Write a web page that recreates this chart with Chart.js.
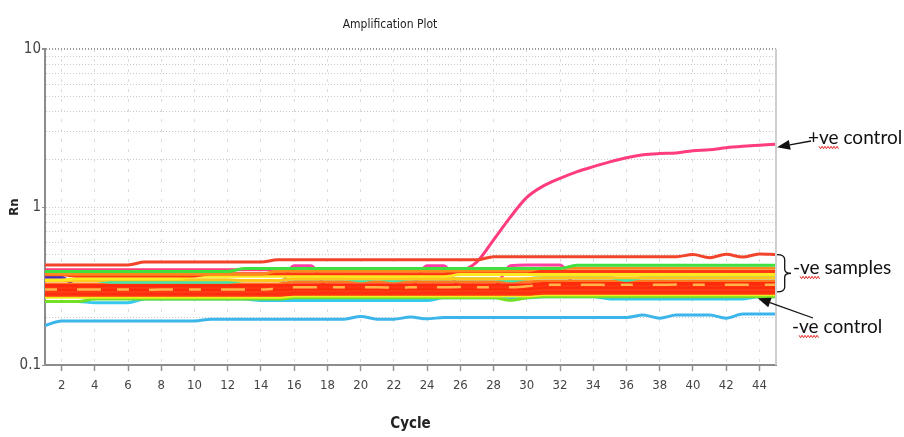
<!DOCTYPE html>
<html>
<head>
<meta charset="utf-8">
<title>Amplification Plot</title>
<script src="https://cdn.jsdelivr.net/npm/chart.js@4.4.1/dist/chart.umd.min.js"></script>
<style>
  body { margin: 0; background: #ffffff; }
  #wrap { position: relative; width: 904px; height: 437px; }
</style>
</head>
<body>
<div id="wrap"><canvas id="ampChart"></canvas></div>
<script>
// Cycles on the x axis and the tick labels used on both axes
const cycles = [1, 2, 3, 4, 5, 6, 7, 8, 9, 10, 11, 12, 13, 14, 15,
  16, 17, 18, 19, 20, 21, 22, 23, 24, 25, 26, 27, 28, 29, 30,
  31, 32, 33, 34, 35, 36, 37, 38, 39, 40, 41, 42, 43, 44, 45];
const xTickLabels = [2, 4, 6, 8, 10, 12, 14, 16, 18, 20, 22, 24, 26, 28, 30, 32, 34, 36, 38, 40, 42, 44];
const yTickLabels = [0.1, 1, 10];
const yMinorTicks = [0.2, 0.3, 0.4, 0.5, 0.6, 0.7, 0.8, 0.9, 2, 3, 4, 5, 6, 7, 8, 9];

// Rn per cycle, one row per 15 cycles
const posControl = [
  0.4, 0.4, 0.4, 0.4, 0.4, 0.4, 0.4, 0.4, 0.4, 0.4, 0.4, 0.4, 0.4, 0.4, 0.4,
  0.4, 0.4, 0.4, 0.4, 0.4, 0.4, 0.4, 0.4, 0.4, 0.4, 0.4, 0.45, 0.62, 0.86, 1.15,
  1.36, 1.52, 1.67, 1.8, 1.93, 2.05, 2.14, 2.18, 2.2, 2.27, 2.3, 2.37, 2.42, 2.46, 2.5];
const negControl = [
  0.178, 0.19, 0.19, 0.19, 0.19, 0.19, 0.19, 0.19, 0.19, 0.19, 0.195, 0.195, 0.195, 0.195, 0.195,
  0.195, 0.195, 0.195, 0.195, 0.203, 0.195, 0.195, 0.201, 0.196, 0.2, 0.2, 0.2, 0.2, 0.2, 0.2,
  0.2, 0.2, 0.2, 0.2, 0.2, 0.2, 0.207, 0.198, 0.207, 0.207, 0.207, 0.198, 0.21, 0.21, 0.21];

// -ve samples, top of the band to the bottom
const topRed = [
  0.43, 0.43, 0.43, 0.43, 0.43, 0.43, 0.448, 0.448, 0.448, 0.448, 0.448, 0.448, 0.448, 0.448, 0.463,
  0.463, 0.463, 0.463, 0.463, 0.463, 0.463, 0.463, 0.463, 0.463, 0.463, 0.463, 0.463, 0.485, 0.485, 0.485,
  0.485, 0.485, 0.485, 0.485, 0.485, 0.485, 0.485, 0.485, 0.485, 0.5, 0.478, 0.502, 0.482, 0.505, 0.5];
const green1 = [
  0.39, 0.39, 0.39, 0.39, 0.39, 0.39, 0.39, 0.39, 0.39, 0.39, 0.39, 0.39, 0.408, 0.408, 0.408,
  0.408, 0.408, 0.408, 0.408, 0.408, 0.408, 0.408, 0.408, 0.408, 0.408, 0.408, 0.408, 0.408, 0.408, 0.408,
  0.408, 0.408, 0.428, 0.428, 0.428, 0.428, 0.428, 0.428, 0.428, 0.428, 0.428, 0.428, 0.428, 0.428, 0.428];
const magenta = [
  0.31, 0.31, 0.31, 0.31, 0.31, 0.31, 0.31, 0.31, 0.31, 0.31, 0.31, 0.31, 0.31, 0.31, 0.31,
  0.425, 0.425, 0.31, 0.31, 0.31, 0.31, 0.31, 0.31, 0.425, 0.425, 0.31, 0.31, 0.31, 0.425, 0.43,
  0.43, 0.43, 0.31, 0.31, 0.31, 0.31, 0.31, 0.31, 0.31, 0.31, 0.31, 0.31, 0.31, 0.31, 0.31];
const orange1 = [
  0.375, 0.375, 0.375, 0.375, 0.375, 0.375, 0.375, 0.375, 0.375, 0.375, 0.375, 0.375, 0.375, 0.375, 0.394,
  0.394, 0.394, 0.394, 0.394, 0.394, 0.394, 0.394, 0.394, 0.394, 0.394, 0.394, 0.394, 0.394, 0.394, 0.394,
  0.41, 0.41, 0.41, 0.41, 0.41, 0.41, 0.41, 0.41, 0.41, 0.41, 0.41, 0.41, 0.41, 0.41, 0.41];
const red2 = [
  0.372, 0.372, 0.366, 0.366, 0.366, 0.366, 0.366, 0.366, 0.366, 0.366, 0.378, 0.378, 0.378, 0.378, 0.378,
  0.378, 0.378, 0.378, 0.378, 0.378, 0.378, 0.378, 0.378, 0.378, 0.378, 0.39, 0.39, 0.39, 0.39, 0.39,
  0.39, 0.39, 0.39, 0.39, 0.39, 0.39, 0.39, 0.39, 0.39, 0.39, 0.39, 0.39, 0.39, 0.39, 0.39];
const purple = [
  0.358, 0.358, 0.31, 0.31, 0.31, 0.31, 0.31, 0.31, 0.31, 0.31, 0.31, 0.31, 0.31, 0.31, 0.31,
  0.31, 0.31, 0.31, 0.31, 0.31, 0.31, 0.31, 0.31, 0.31, 0.31, 0.31, 0.31, 0.31, 0.31, 0.31,
  0.31, 0.31, 0.31, 0.31, 0.31, 0.31, 0.31, 0.31, 0.31, 0.31, 0.31, 0.31, 0.31, 0.31, 0.31];
const yellow1 = [
  0.345, 0.345, 0.352, 0.352, 0.352, 0.352, 0.352, 0.352, 0.352, 0.364, 0.364, 0.364, 0.364, 0.364, 0.364,
  0.364, 0.364, 0.364, 0.364, 0.364, 0.364, 0.364, 0.364, 0.364, 0.364, 0.374, 0.374, 0.374, 0.374, 0.374,
  0.374, 0.374, 0.374, 0.374, 0.374, 0.374, 0.374, 0.374, 0.374, 0.374, 0.374, 0.374, 0.374, 0.374, 0.374];
const yellow1b = [
  0.342, 0.342, 0.342, 0.342, 0.346, 0.346, 0.346, 0.346, 0.346, 0.346, 0.346, 0.346, 0.342, 0.342, 0.342,
  0.352, 0.352, 0.352, 0.352, 0.352, 0.352, 0.352, 0.352, 0.352, 0.352, 0.352, 0.352, 0.352, 0.352, 0.352,
  0.356, 0.356, 0.356, 0.356, 0.356, 0.356, 0.356, 0.356, 0.356, 0.356, 0.356, 0.356, 0.356, 0.356, 0.356];
const cyan1 = [
  0.342, 0.342, 0.342, 0.342, 0.334, 0.334, 0.334, 0.334, 0.334, 0.334, 0.334, 0.334, 0.342, 0.342, 0.342,
  0.352, 0.352, 0.352, 0.352, 0.341, 0.352, 0.341, 0.352, 0.352, 0.352, 0.352, 0.352, 0.352, 0.341, 0.352,
  0.356, 0.356, 0.356, 0.356, 0.356, 0.343, 0.356, 0.356, 0.356, 0.356, 0.356, 0.356, 0.356, 0.356, 0.356];
const orange3 = [
  0.326, 0.326, 0.326, 0.326, 0.326, 0.326, 0.326, 0.326, 0.326, 0.326, 0.326, 0.326, 0.326, 0.326, 0.326,
  0.336, 0.336, 0.336, 0.336, 0.336, 0.336, 0.336, 0.336, 0.336, 0.336, 0.336, 0.336, 0.336, 0.336, 0.336,
  0.34, 0.34, 0.34, 0.34, 0.34, 0.34, 0.34, 0.34, 0.34, 0.34, 0.34, 0.34, 0.34, 0.34, 0.34];
const orange2 = [
  0.3, 0.3, 0.3, 0.301, 0.3, 0.3, 0.299, 0.3, 0.3, 0.3, 0.301, 0.3, 0.3, 0.3, 0.305,
  0.31, 0.31, 0.31, 0.311, 0.31, 0.31, 0.309, 0.31, 0.31, 0.31, 0.312, 0.31, 0.31, 0.31, 0.315,
  0.322, 0.322, 0.322, 0.322, 0.321, 0.322, 0.322, 0.322, 0.323, 0.322, 0.322, 0.322, 0.322, 0.322, 0.322];
const red3 = [
  0.318, 0.318, 0.318, 0.318, 0.318, 0.318, 0.318, 0.318, 0.318, 0.318, 0.318, 0.318, 0.318, 0.318, 0.318,
  0.322, 0.322, 0.322, 0.322, 0.322, 0.322, 0.322, 0.322, 0.322, 0.322, 0.322, 0.322, 0.322, 0.322, 0.322,
  0.328, 0.328, 0.328, 0.328, 0.328, 0.328, 0.328, 0.328, 0.328, 0.328, 0.328, 0.328, 0.328, 0.328, 0.328];
const red4 = [
  0.309, 0.309, 0.309, 0.309, 0.309, 0.309, 0.309, 0.309, 0.309, 0.309, 0.309, 0.309, 0.309, 0.309, 0.309,
  0.313, 0.313, 0.313, 0.313, 0.313, 0.313, 0.313, 0.313, 0.313, 0.313, 0.313, 0.313, 0.313, 0.313, 0.313,
  0.319, 0.319, 0.319, 0.319, 0.319, 0.319, 0.319, 0.319, 0.319, 0.319, 0.319, 0.319, 0.319, 0.319, 0.319];
const red5 = [
  0.3, 0.3, 0.3, 0.3, 0.3, 0.3, 0.3, 0.3, 0.3, 0.3, 0.3, 0.3, 0.3, 0.3, 0.3,
  0.304, 0.304, 0.304, 0.304, 0.304, 0.304, 0.304, 0.304, 0.304, 0.304, 0.304, 0.304, 0.304, 0.304, 0.304,
  0.31, 0.31, 0.31, 0.31, 0.31, 0.31, 0.31, 0.31, 0.31, 0.31, 0.31, 0.31, 0.31, 0.31, 0.31];
const red6 = [
  0.292, 0.292, 0.292, 0.292, 0.292, 0.292, 0.292, 0.292, 0.292, 0.292, 0.292, 0.292, 0.292, 0.292, 0.292,
  0.296, 0.296, 0.296, 0.296, 0.296, 0.296, 0.296, 0.296, 0.296, 0.296, 0.296, 0.296, 0.296, 0.296, 0.296,
  0.301, 0.301, 0.301, 0.301, 0.301, 0.301, 0.301, 0.301, 0.301, 0.301, 0.301, 0.301, 0.301, 0.301, 0.301];
const red7 = [
  0.284, 0.284, 0.284, 0.284, 0.284, 0.284, 0.284, 0.284, 0.284, 0.284, 0.284, 0.284, 0.284, 0.284, 0.284,
  0.288, 0.288, 0.288, 0.288, 0.288, 0.288, 0.288, 0.288, 0.288, 0.288, 0.288, 0.288, 0.288, 0.288, 0.288,
  0.293, 0.293, 0.293, 0.293, 0.293, 0.293, 0.293, 0.293, 0.293, 0.293, 0.293, 0.293, 0.293, 0.293, 0.293];
const red8 = [
  0.276, 0.276, 0.276, 0.276, 0.276, 0.276, 0.276, 0.276, 0.276, 0.276, 0.276, 0.276, 0.276, 0.276, 0.276,
  0.28, 0.28, 0.28, 0.28, 0.28, 0.28, 0.28, 0.28, 0.28, 0.28, 0.28, 0.28, 0.28, 0.28, 0.28,
  0.285, 0.285, 0.285, 0.285, 0.285, 0.285, 0.285, 0.285, 0.285, 0.285, 0.285, 0.285, 0.285, 0.285, 0.285];
const yellow3 = [
  0.268, 0.268, 0.268, 0.268, 0.268, 0.268, 0.268, 0.268, 0.268, 0.268, 0.268, 0.268, 0.268, 0.268, 0.268,
  0.273, 0.273, 0.273, 0.273, 0.273, 0.273, 0.273, 0.273, 0.273, 0.273, 0.273, 0.273, 0.273, 0.273, 0.273,
  0.278, 0.278, 0.278, 0.278, 0.278, 0.278, 0.278, 0.278, 0.278, 0.278, 0.278, 0.278, 0.278, 0.278, 0.278];
const green2 = [
  0.252, 0.252, 0.252, 0.262, 0.262, 0.262, 0.262, 0.262, 0.262, 0.262, 0.262, 0.262, 0.262, 0.262, 0.262,
  0.266, 0.266, 0.266, 0.266, 0.266, 0.266, 0.266, 0.266, 0.266, 0.266, 0.266, 0.266, 0.266, 0.257, 0.266,
  0.27, 0.27, 0.27, 0.27, 0.27, 0.27, 0.27, 0.27, 0.27, 0.27, 0.27, 0.27, 0.27, 0.27, 0.27];
const lightBlue = [
  0.252, 0.252, 0.252, 0.248, 0.248, 0.248, 0.262, 0.262, 0.262, 0.262, 0.262, 0.262, 0.262, 0.256, 0.256,
  0.256, 0.256, 0.256, 0.256, 0.256, 0.256, 0.256, 0.256, 0.256, 0.266, 0.266, 0.266, 0.266, 0.266, 0.266,
  0.27, 0.27, 0.27, 0.27, 0.262, 0.262, 0.262, 0.262, 0.262, 0.262, 0.262, 0.262, 0.262, 0.27, 0.27];

const narrowFont = "'Liberation Sans Narrow', 'Arial Narrow', 'DejaVu Sans Condensed', sans-serif";
const calloutFont = "19px Lato, 'Open Sans', sans-serif";

document.addEventListener("DOMContentLoaded", function () {
  drawAmplificationPlot();
});

/**
 * Turns one Rn list into a line dataset over the cycles
 */
function series(label, values, color, extra) {
  return Object.assign({
    label: label,
    data: values.map((v, i) => ({ x: cycles[i], y: v })),
    borderColor: color,
    borderWidth: 3,
    pointRadius: 0,
    cubicInterpolationMode: "monotone",
  }, extra || {});
}

function drawArrow(ctx, x0, y0, x1, y1) {
  const ang = Math.atan2(y1 - y0, x1 - x0);
  const len = 13, half = 5;
  const bx = x1 - len * Math.cos(ang), by = y1 - len * Math.sin(ang);
  ctx.beginPath();
  ctx.moveTo(x0, y0);
  ctx.lineTo(bx, by);
  ctx.stroke();
  ctx.beginPath();
  ctx.moveTo(x1, y1);
  ctx.lineTo(bx + half * Math.sin(ang), by - half * Math.cos(ang));
  ctx.lineTo(bx - half * Math.sin(ang), by + half * Math.cos(ang));
  ctx.closePath();
  ctx.fill();
}

// Text with the red spell-check squiggle under "ve"
function calloutText(ctx, text, x, y) {
  ctx.fillStyle = "#111";
  ctx.fillText(text, x, y);
  const x0 = x + ctx.measureText(text.charAt(0)).width;
  const x1 = x + ctx.measureText(text.substring(0, 3)).width;
  ctx.save();
  ctx.strokeStyle = "#e3261f";
  ctx.lineWidth = 1;
  ctx.beginPath();
  let i = 0;
  for (let px = x0; px <= x1; px += 1.5, i++) {
    const py = y + 3.5 + (i % 2 ? 1.2 : -1.2);
    if (i === 0) ctx.moveTo(px, py); else ctx.lineTo(px, py);
  }
  ctx.stroke();
  ctx.restore();
}

function drawBrace(ctx, x, top, bottom, depth) {
  const mid = (top + bottom) / 2, inner = x + depth * 0.55;
  ctx.beginPath();
  ctx.moveTo(x, top);
  ctx.quadraticCurveTo(inner, top, inner, top + 5);
  ctx.lineTo(inner, mid - 4);
  ctx.quadraticCurveTo(inner, mid, x + depth, mid);
  ctx.quadraticCurveTo(inner, mid, inner, mid + 4);
  ctx.lineTo(inner, bottom - 5);
  ctx.quadraticCurveTo(inner, bottom, x, bottom);
  ctx.stroke();
}

const calloutPlugin = {
  id: "callouts",
  afterDraw(chart) {
    const ctx = chart.ctx;
    const area = chart.chartArea;
    const xs = chart.scales.x, ys = chart.scales.y;
    ctx.save();

    // title sits a little left of the plot centre
    ctx.font = "12px " + narrowFont;
    ctx.fillStyle = "#222";
    ctx.textAlign = "center";
    ctx.textBaseline = "middle";
    ctx.fillText("Amplification Plot", 390, 25);

    // light right-hand frame
    ctx.strokeStyle = "#cfcfcf";
    ctx.lineWidth = 2;
    ctx.beginPath();
    ctx.moveTo(area.right, area.top);
    ctx.lineTo(area.right, area.bottom);
    ctx.stroke();

    ctx.font = calloutFont;
    ctx.textAlign = "left";
    ctx.textBaseline = "alphabetic";
    ctx.strokeStyle = "#111";
    ctx.fillStyle = "#111";
    ctx.lineWidth = 1.3;

    // +ve control
    const lastCycle = cycles[cycles.length - 1];
    drawArrow(ctx, 811, 141, xs.getPixelForValue(lastCycle) + 1,
      ys.getPixelForValue(posControl[posControl.length - 1]) + 3);
    calloutText(ctx, "+ve control", 808, 144);

    // -ve samples
    ctx.strokeStyle = "#111";
    drawBrace(ctx, area.right + 1, ys.getPixelForValue(0.5), ys.getPixelForValue(0.29), 14);
    calloutText(ctx, "-ve samples", 793, 274);

    // -ve control
    ctx.fillStyle = "#111";
    drawArrow(ctx, 813, 318, xs.getPixelForValue(43.9), ys.getPixelForValue(0.265));
    calloutText(ctx, "-ve control", 792, 333);
    ctx.restore();
  },
};

/**
 * Builds the log-scale amplification plot
 */
function drawAmplificationPlot() {
  const ctx = document.getElementById("ampChart").getContext("2d");
  const yAllTicks = yTickLabels.concat(yMinorTicks).sort((a, b) => a - b);

  new Chart(ctx, {
    type: "line",
    data: {
      datasets: [
        series("Sample 1", topRed, "#f2432b"),
        series("-ve control", negControl, "#3cb6ea"),
        series("Sample 2", orange2, "#ffb548", { borderWidth: 2.5, borderDash: [12, 20, 24, 16] }),
        series("Sample 3", green1, "#3fe03f"),
        series("Sample 4", orange1, "#ff8a1c"),
        series("Sample 5", red2, "#ff3a12"),
        series("Sample 6", yellow1, "#ffe81f"),
        series("Sample 7", yellow1b, "#ffc81a"),
        series("Sample 8", cyan1, "#3fe3b0"),
        series("Sample 9", red3, "#ff2a0c"),
        series("Sample 10", red4, "#ff3410"),
        series("Sample 11", red5, "#fb2a0a"),
        series("Sample 12", red6, "#ff3a14"),
        series("Sample 13", red7, "#ff2e0e"),
        series("Sample 14", red8, "#ff3612"),
        series("Sample 15", orange3, "#ff7a1c"),
        series("Sample 16", yellow3, "#eef01e"),
        series("Sample 17", green2, "#72e024"),
        series("Sample 18", lightBlue, "#35c9ee"),
        series("Sample 19", purple, "#4530c0"),
        series("Sample 20", magenta, "#ff3fa6"),
        series("+ve control", posControl, "#ff3c7c"),
      ],
    },
    options: {
      responsive: true,
      maintainAspectRatio: false,
      animation: false,
      layout: { padding: { top: 49, right: 128, bottom: 0, left: 4 } },
      plugins: {
        legend: { display: false },
        tooltip: { enabled: false },
      },
      scales: {
        x: {
          type: "linear",
          min: 1,
          max: 45,
          afterBuildTicks: (scale) => {
            scale.ticks = xTickLabels.map((v) => ({ value: v }));
          },
          afterFit: (scale) => {
            scale.height = 72;
          },
          ticks: {
            autoSkip: false,
            maxRotation: 0,
            padding: 7,
            color: "#444",
            font: { family: narrowFont, size: 13 },
          },
          grid: {
            color: "#dcdcdc",
            tickColor: "#8c8c8c",
            tickLength: 6,
            tickWidth: 1.5,
            tickBorderDash: [],
          },
          border: { color: "#8c8c8c", width: 2, dash: [3, 7] },
          title: {
            display: true,
            text: "Cycle",
            color: "#222",
            padding: { top: 0, bottom: 4 },
            font: { family: narrowFont, size: 15, weight: "bold" },
          },
        },
        y: {
          type: "logarithmic",
          min: 0.1,
          max: 10,
          afterBuildTicks: (scale) => {
            scale.ticks = yAllTicks.map((v) => ({ value: v }));
          },
          afterFit: (scale) => {
            scale.width = 41;
          },
          ticks: {
            autoSkip: false,
            padding: 1,
            color: "#444",
            font: { family: narrowFont, size: 15 },
            callback: (value) => (yTickLabels.includes(value) ? String(value) : ""),
          },
          grid: {
            color: (c) => (c.tick && c.tick.value === 10 ? "#9a9a9a" : "#c9c9c9"),
            lineWidth: (c) => (c.tick && c.tick.value === 10 ? 2 : 1),
            tickColor: (c) => (c.tick && yTickLabels.includes(c.tick.value) ? "#8c8c8c" : "rgba(0,0,0,0)"),
            tickLength: 3,
            tickBorderDash: [],
          },
          border: { color: "#8c8c8c", width: 2, dash: [1, 2] },
          title: {
            display: true,
            text: "Rn",
            color: "#222",
            padding: { top: 3, bottom: 0 },
            font: { family: narrowFont, size: 13, weight: "bold" },
          },
        },
      },
    },
    plugins: [calloutPlugin],
  });
}
</script>
</body>
</html>
